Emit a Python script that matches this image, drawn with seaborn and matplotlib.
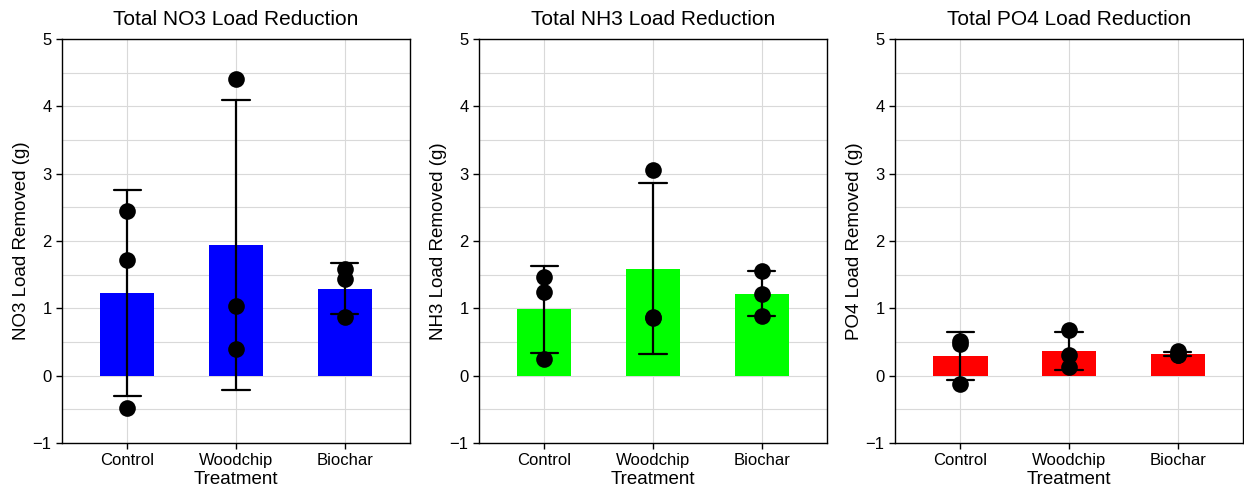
import matplotlib
matplotlib.use("Agg")
import matplotlib.pyplot as plt
import seaborn as sns
import pandas as pd
from matplotlib.ticker import MultipleLocator

treatments = ["Control", "Woodchip", "Biochar"]

no3_control = [2.45, 1.72, -0.48]
no3_woodchip = [4.40, 1.03, 0.39]
no3_biochar = [1.58, 1.43, 0.87]

nh3_control = [1.46, 1.24, 0.25]
nh3_woodchip = [3.05, 0.87, 0.85]
nh3_biochar = [1.56, 1.21, 0.89]

po4_control = [0.52, 0.47, -0.12]
po4_woodchip = [0.68, 0.30, 0.13]
po4_biochar = [0.36, 0.30, 0.30]

titles = ["Total NO3 Load Reduction", "Total NH3 Load Reduction", "Total PO4 Load Reduction"]
ylabels = ["NO3 Load Removed (g)", "NH3 Load Removed (g)", "PO4 Load Removed (g)"]
colors = ["#0000ff", "#00ff00", "#ff0000"]

series = [
    [no3_control, no3_woodchip, no3_biochar],
    [nh3_control, nh3_woodchip, nh3_biochar],
    [po4_control, po4_woodchip, po4_biochar],
]

sns.set_theme(style="white")
plt.rcParams['font.family'] = ['Liberation Sans', 'DejaVu Sans']
plt.rcParams['text.color'] = 'black'
plt.rcParams['axes.labelcolor'] = 'black'
plt.rcParams['xtick.color'] = 'black'
plt.rcParams['ytick.color'] = 'black'

fig = plt.figure(figsize=(12.44, 4.92), dpi=100)
lefts = [0.0498, 0.385, 0.7195]
w = 0.2798
bottom = 0.0996
h = 0.8211

for i in range(3):
    ax = fig.add_axes([lefts[i], bottom, w, h])
    rows = []
    for t, vals in zip(treatments, series[i]):
        for v in vals:
            rows.append({"Treatment": t, "value": v})
    df = pd.DataFrame(rows)
    sns.barplot(data=df, x="Treatment", y="value", order=treatments, color=colors[i],
                saturation=1, width=0.5, errorbar="sd", capsize=0.25,
                err_kws={"color": "black", "linewidth": 1.6}, linewidth=0, ax=ax,
                zorder=2)
    sns.stripplot(data=df, x="Treatment", y="value", order=treatments, color="black",
                  jitter=False, size=12, ax=ax, zorder=4)
    ax.set_ylim(-1, 5)
    ax.set_xlim(-0.6, 2.6)
    ax.yaxis.set_major_locator(MultipleLocator(1))
    ax.yaxis.set_minor_locator(MultipleLocator(0.5))
    ax.grid(True, which="major", color="#d9d9d9", linewidth=0.8, zorder=0)
    ax.grid(True, which="minor", axis="y", color="#d9d9d9", linewidth=0.8, zorder=0)
    ax.set_axisbelow(True)
    for s in ax.spines.values():
        s.set_visible(True)
        s.set_color("black")
        s.set_linewidth(1.0)
    ax.tick_params(axis="both", which="major", direction="out", length=4, width=1,
                   color="black", labelcolor="black", labelsize=12, left=True, bottom=True)
    ax.tick_params(axis="y", which="minor", left=False)
    ax.set_title(titles[i], fontsize=15, pad=10, color="black")
    ax.set_ylabel(ylabels[i], fontsize=13.5, color="black", labelpad=2)
    ax.set_xlabel("Treatment", fontsize=13.5, labelpad=2, color="black")

fig.savefig("out.png", dpi=100)
